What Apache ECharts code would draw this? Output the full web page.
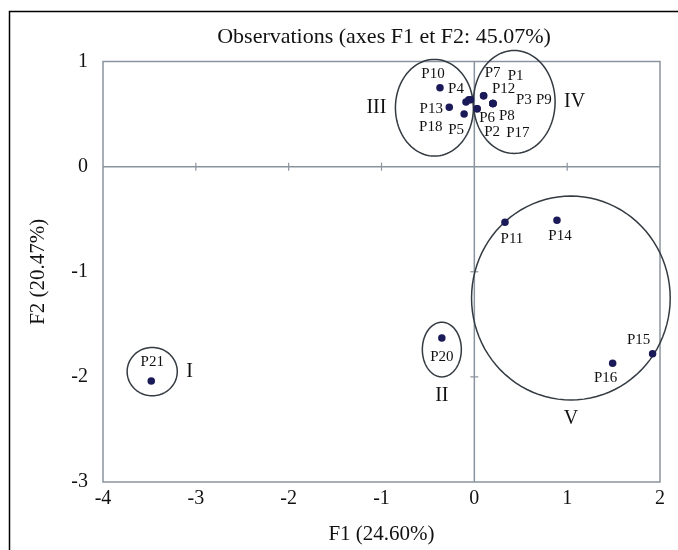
<!DOCTYPE html>
<html>
<head>
<meta charset="utf-8">
<script src="https://cdn.jsdelivr.net/npm/echarts@6/dist/echarts.min.js"></script>
<style>
  html, body { margin: 0; padding: 0; background: #fff; }
  #chart { width: 678px; height: 550px; }
</style>
</head>
<body>
<div id="chart"></div>
<script>
// observations (F1, F2 scores)
var obsNames = ["P1", "P2", "P3", "P4", "P5", "P6", "P7", "P8", "P9", "P10",
  "P11", "P12", "P13", "P14", "P15", "P16", "P17", "P18", "P20", "P21"];
var obsF1 = [0.10, 0.03, 0.20, -0.09, -0.11, 0.03, -0.04, 0.20, 0.20, -0.37,
  0.33, 0.10, -0.27, 0.89, 1.92, 1.49, 0.20, -0.06, -0.35, -3.48];
var obsF2 = [0.675, 0.55, 0.60, 0.615, 0.50, 0.55, 0.635, 0.60, 0.60, 0.75,
  -0.53, 0.675, 0.565, -0.51, -1.78, -1.87, 0.60, 0.635, -1.63, -2.04];

// groups drawn as ellipses
var clusterNames = ["I", "II", "III", "IV", "V"];
var clusterCx = [-3.47, -0.35, -0.43, 0.43, 1.04];
var clusterCy = [-1.95, -1.74, 0.56, 0.615, -1.25];
var clusterRx = [0.27, 0.21, 0.42, 0.44, 1.07];
var clusterRy = [0.23, 0.26, 0.46, 0.49, 0.97];

// ticks drawn on the zero lines
var xZeroTicks = [-3, -2, -1, 1];
var yZeroTicks = [-1, -2];

var SERIF = "'Liberation Serif', 'DejaVu Serif', serif";
var AXIS_GREY = "#8a949e";

// where each label sits relative to its dot (px)
var labelOffsets = {
  P1: [32, -20], P2: [15, 23], P3: [31, -3], P4: [-10, -13], P5: [-8, 16],
  P6: [10, 9], P7: [22, -27], P8: [14, 13], P9: [51, -3], P10: [-7, -14],
  P11: [7, 17], P12: [20, -7], P13: [-18, 2], P14: [3, 16], P15: [-14, -14],
  P16: [-7, 15], P17: [25, 30], P18: [-38, 27], P20: [0, 19], P21: [1, -19]
};
var clusterSide = { I: "right", II: "bottom", III: "left", IV: "right", V: "bottom" };

var chart = echarts.init(document.getElementById("chart"));

var scatterData = obsNames.map(function (n, i) {
  return {
    name: n,
    value: [obsF1[i], obsF2[i]],
    label: { offset: labelOffsets[n] }
  };
});

var ellipseData = clusterNames.map(function (n, i) {
  return [clusterCx[i], clusterCy[i], clusterRx[i], clusterRy[i]];
});

function renderEllipse(params, api) {
  var c = api.coord([api.value(0), api.value(1)]);
  var s = api.size([api.value(2), api.value(3)]);
  var pts = [];
  for (var k = 0; k < 96; k++) {
    var t = (k / 96) * Math.PI * 2;
    pts.push([c[0] + s[0] * Math.cos(t), c[1] + s[1] * Math.sin(t)]);
  }
  var name = clusterNames[params.dataIndex];
  var side = clusterSide[name];
  var gap = 9;
  var tx = c[0], ty = c[1], align = "center", valign = "middle";
  if (side === "right") { tx = c[0] + s[0] + gap; align = "left"; }
  if (side === "left") { tx = c[0] - s[0] - gap; align = "right"; }
  if (side === "bottom") { ty = c[1] + s[1] + gap; valign = "top"; }
  return {
    type: "group",
    children: [
      {
        type: "polygon",
        shape: { points: pts },
        style: { fill: "none", stroke: "#343b42", lineWidth: 1.5 }
      },
      {
        type: "text",
        x: tx,
        y: ty,
        style: {
          text: name,
          fill: "#111",
          font: "20px " + SERIF,
          align: align,
          verticalAlign: valign
        }
      }
    ]
  };
}

function renderZeroAxes(params, api) {
  var kids = [];
  var a = api.coord([-4, 0]), b = api.coord([2, 0]);
  kids.push({ type: "line", shape: { x1: a[0], y1: a[1], x2: b[0], y2: b[1] },
    style: { stroke: AXIS_GREY, lineWidth: 1.5 } });
  a = api.coord([0, -3]); b = api.coord([0, 1]);
  kids.push({ type: "line", shape: { x1: a[0], y1: a[1], x2: b[0], y2: b[1] },
    style: { stroke: AXIS_GREY, lineWidth: 1.5 } });
  xZeroTicks.forEach(function (v) {
    var p = api.coord([v, 0]);
    kids.push({ type: "line", shape: { x1: p[0], y1: p[1] - 4, x2: p[0], y2: p[1] + 4 },
      style: { stroke: AXIS_GREY, lineWidth: 1.2 } });
  });
  yZeroTicks.forEach(function (v) {
    var p = api.coord([0, v]);
    kids.push({ type: "line", shape: { x1: p[0] - 4, y1: p[1], x2: p[0] + 4, y2: p[1] },
      style: { stroke: AXIS_GREY, lineWidth: 1.2 } });
  });
  return { type: "group", children: kids };
}

var option = {
  animation: false,
  backgroundColor: "#fff",
  title: {
    text: "Observations (axes F1 et F2: 45.07%)",
    left: 379,
    top: 21,
    textAlign: "center",
    textStyle: { fontFamily: SERIF, fontSize: 22, fontWeight: "normal", color: "#111" }
  },
  graphic: [
    {
      type: "rect",
      left: 7,
      top: 9,
      silent: true,
      shape: { width: 720, height: 600 },
      style: { fill: "none", stroke: "#000", lineWidth: 1.5 }
    }
  ],
  grid: {
    left: 103,
    right: 18,
    top: 61.5,
    bottom: 67.5,
    show: true,
    borderColor: AXIS_GREY,
    borderWidth: 1.5,
    containLabel: false
  },
  xAxis: {
    type: "value",
    min: -4,
    max: 2,
    interval: 1,
    name: "F1 (24.60%)",
    nameLocation: "middle",
    nameGap: 42,
    nameTextStyle: { fontFamily: SERIF, fontSize: 21, color: "#111" },
    axisLine: { show: false },
    axisTick: { show: false },
    splitLine: { show: false },
    axisLabel: { fontFamily: SERIF, fontSize: 20, color: "#111", margin: 7 }
  },
  yAxis: {
    type: "value",
    min: -3,
    max: 1,
    interval: 1,
    name: "F2 (20.47%)",
    nameLocation: "middle",
    nameGap: 54,
    nameTextStyle: { fontFamily: SERIF, fontSize: 21, color: "#111" },
    axisLine: { show: false },
    axisTick: { show: false },
    splitLine: { show: false },
    axisLabel: { fontFamily: SERIF, fontSize: 20, color: "#111", margin: 15 }
  },
  series: [
    {
      type: "custom",
      name: "zero",
      renderItem: renderZeroAxes,
      data: [[0, 0]],
      silent: true,
      z: 1
    },
    {
      type: "custom",
      name: "groups",
      renderItem: renderEllipse,
      data: ellipseData,
      silent: true,
      clip: false,
      z: 2
    },
    {
      type: "scatter",
      name: "obs",
      data: scatterData,
      symbolSize: 7.5,
      itemStyle: { color: "#1b1a58", opacity: 1 },
      label: {
        show: true,
        position: "inside",
        formatter: "{b}",
        fontFamily: SERIF,
        fontSize: 15,
        color: "#111",
        align: "center",
        verticalAlign: "middle"
      },
      emphasis: { disabled: true },
      silent: true,
      z: 3
    }
  ]
};

chart.setOption(option);
</script>
</body>
</html>
